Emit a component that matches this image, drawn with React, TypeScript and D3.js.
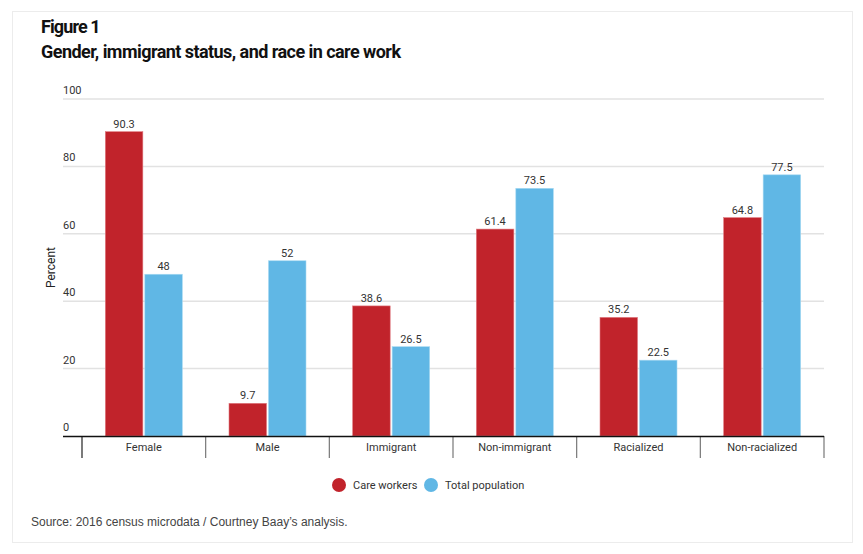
import React from "react";
import * as d3 from "d3";

const categories = ["Female", "Male", "Immigrant", "Non-immigrant", "Racialized", "Non-racialized"];
const seriesNames = ["Care workers", "Total population"];
const careWorkers = [90.3, 9.7, 38.6, 61.4, 35.2, 64.8];
const totalPopulation = [48, 52, 26.5, 73.5, 22.5, 77.5];
const yTicks = [0, 20, 40, 60, 80, 100];
const colors = ["#c1232b", "#60b7e5"];

const W = 863;
const H = 554;
const FONT = "Roboto, 'Noto Sans', sans-serif";

export default function App() {
  const x = d3.scaleBand<string>().domain(categories).range([82, 824]).paddingInner(0).paddingOuter(0);
  const y = d3.scaleLinear().domain([0, 100]).range([436, 99]);
  const groupW = 77;
  const inner = d3.scaleBand<string>().domain(seriesNames).range([-groupW / 2, groupW / 2]).paddingInner(0.05);
  const series = [careWorkers, totalPopulation];
  const bounds = [...categories.map((c) => x(c) as number), 824];

  return (
    <svg width={W} height={H} style={{ position: "absolute", left: 0, top: 0, background: "#fff" }}>
      <rect x={12.5} y={11.5} width={840} height={531} fill="#fff" stroke="#ececec" strokeWidth={1} />
      <text x={41} y={33} fontFamily={FONT} fontWeight={700} fontSize={18} fill="#111" letterSpacing={-0.9}>
        Figure 1
      </text>
      <text x={41} y={58} fontFamily={FONT} fontWeight={700} fontSize={18} fill="#111" letterSpacing={-0.55}>
        Gender, immigrant status, and race in care work
      </text>

      {yTicks.map((t) => (
        <g key={t}>
          {t > 0 && <line x1={63} x2={824} y1={y(t)} y2={y(t)} stroke="#e2e2e2" strokeWidth={1.5} />}
          <text x={63} y={y(t) - 5} fontFamily={FONT} fontSize={11} fill="#333">
            {t}
          </text>
        </g>
      ))}

      <text
        transform={`translate(55,${(y(0) + y(100)) / 2}) rotate(-90)`}
        textAnchor="middle"
        fontFamily={FONT}
        fontSize={12}
        fill="#222"
      >
        Percent
      </text>

      {categories.map((c, i) => {
        const cx = (x(c) as number) + x.bandwidth() / 2;
        return (
          <g key={c}>
            {series.map((vals, si) => {
              const bx = cx + (inner(seriesNames[si]) as number);
              const bw = inner.bandwidth();
              return (
                <g key={si}>
                  <rect
                    x={bx}
                    y={y(vals[i])}
                    width={bw}
                    height={y(0) - y(vals[i])}
                    fill={colors[si]}
                    stroke={si === 0 ? "#e07a80" : "#a8daf2"}
                    strokeWidth={0.6}
                  />
                  <text
                    x={bx + bw / 2}
                    y={y(vals[i]) - 4}
                    textAnchor="middle"
                    fontFamily={FONT}
                    fontSize={11}
                    fill="#333"
                  >
                    {vals[i]}
                  </text>
                </g>
              );
            })}
            <text x={cx} y={451} textAnchor="middle" fontFamily={FONT} fontSize={11} fill="#333">
              {c}
            </text>
          </g>
        );
      })}

      {bounds.map((b, i) => (
        <line key={i} x1={b} x2={b} y1={436} y2={458} stroke={i === 0 ? "#222" : "#777"} strokeWidth={1.2} />
      ))}
      <line x1={63} x2={824} y1={436.5} y2={436.5} stroke="#111" strokeWidth={1.6} />

      {seriesNames.map((s, i) => {
        const lx = i === 0 ? 339 : 431;
        return (
          <g key={s}>
            <circle cx={lx} cy={485} r={7} fill={colors[i]} />
            <text x={lx + 14} y={489} fontFamily={FONT} fontSize={11} fill="#333">
              {s}
            </text>
          </g>
        );
      })}

      <text x={31} y={526} fontFamily="'Liberation Sans', Arial, sans-serif" fontSize={12} fill="#444">
        Source: 2016 census microdata / Courtney Baay’s analysis.
      </text>
    </svg>
  );
}
